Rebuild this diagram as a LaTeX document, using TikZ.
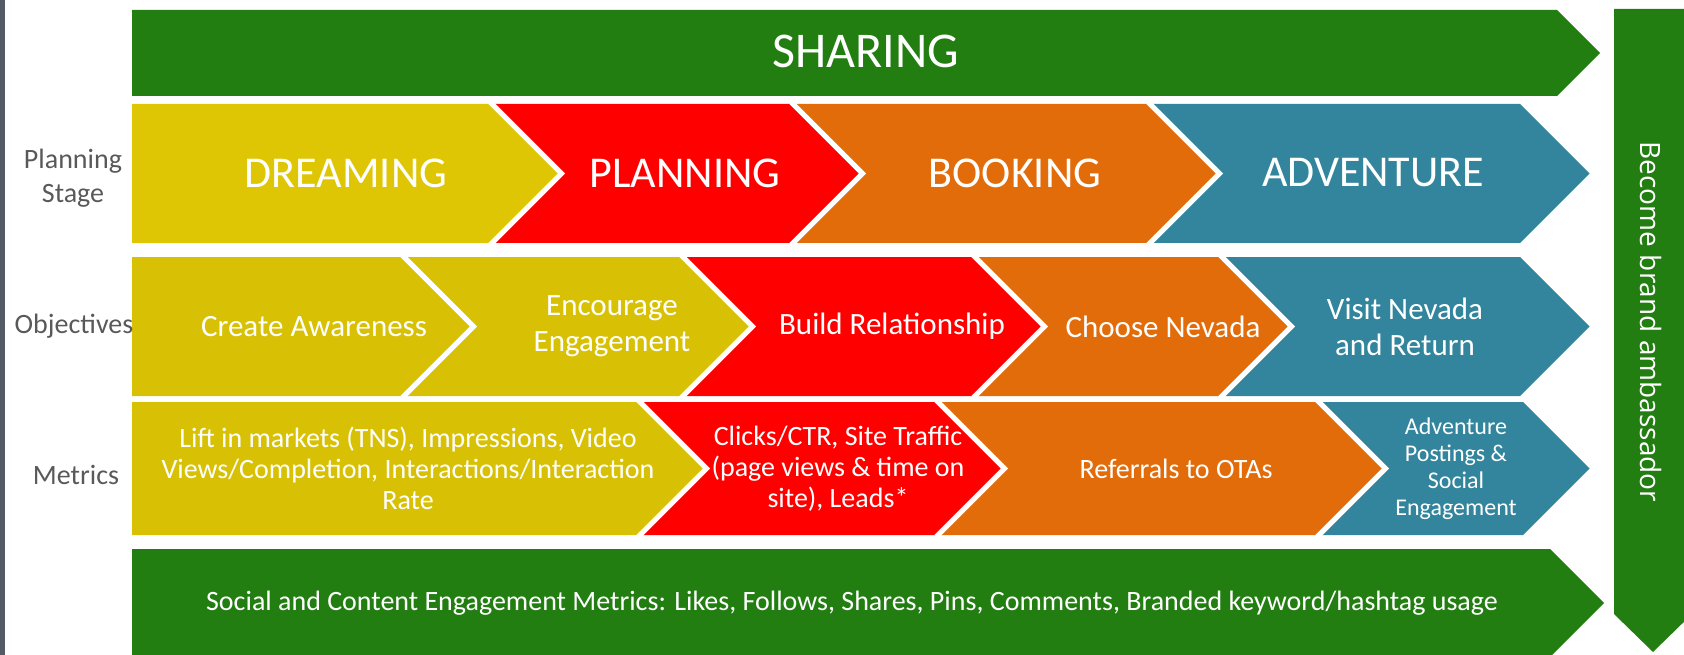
\documentclass[tikz,border=0pt]{standalone}
\usepackage{fontspec}
\setmainfont{Carlito}
\newfontfamily\sidefont{Open Sans}
\usetikzlibrary{positioning}
\definecolor{edgegray}{RGB}{84,91,101}
\definecolor{sharegreen}{RGB}{34,126,17}
\definecolor{dreamyellow}{RGB}{223,198,4}
\definecolor{goalyellow}{RGB}{216,193,4}
\definecolor{planred}{RGB}{255,0,0}
\definecolor{bookorange}{RGB}{227,108,10}
\definecolor{adventteal}{RGB}{50,133,156}
\definecolor{labelgray}{RGB}{89,89,89}
\tikzset{
  gap/.style={
    draw = white,
    line width = 5pt,
    line join = miter,
    line cap = rect
  },
  stage/.style={
    text = white,
    font = \fontsize{44}{52}\selectfont
  },
  goal/.style={
    text = white,
    align = center,
    font = \fontsize{31}{36}\selectfont
  },
  metric/.style={
    text = white,
    align = center,
    font = \fontsize{28}{31}\selectfont
  },
  rowlabel/.style={
    text = labelgray,
    align = center,
    font = \fontsize{28}{34}\selectfont
  },
}

\begin{document}
\begin{tikzpicture}[x=1pt,y=-1pt]
\useasboundingbox (0,0) rectangle (1684,655);
\clip (0,0) rectangle (1684,655);
\fill[edgegray] (0,0) rectangle (5,655);
% green bands, top and bottom
\fill[sharegreen] (132,10) -- (1557,10) -- (1600,53) -- (1557,96) -- (132,96) -- cycle;
\fill[sharegreen] (132,549) -- (1550,549) -- (1604,603) -- (1550,657) -- (132,657) -- cycle;
\fill[sharegreen] (1614,9) -- (1692,9) -- (1692,614) -- (1653,652) -- (1614,614) -- cycle;
% planning stage row
\foreach \l/\n/\r/\c in {132/0/492/dreamyellow, 492/69.5/793/planred,
    793/69.5/1150/bookorange, 1150/69.5/1520/adventteal}{
  \fill[\c] (\l,104) -- (\r,104) -- ++(69.5,69.5) -- (\r,243) -- (\l,243)
    -- ++(\n,-69.5) -- cycle;
}
\foreach \b in {492,793,1150}{
  \draw[gap] (\b,104) -- ++(69.5,69.5) -- (\b,243);
}
% objectives row
\foreach \l/\n/\r/\c in {132/0/404/goalyellow, 404/69.5/683/goalyellow,
    683/69.5/975/planred, 975/69.5/1222/bookorange, 1222/69.5/1520/adventteal}{
  \fill[\c] (\l,257) -- (\r,257) -- ++(69.5,69.5) -- (\r,396) -- (\l,396)
    -- ++(\n,-69.5) -- cycle;
}
\foreach \b in {404,683,975,1222}{
  \draw[gap] (\b,257) -- ++(69.5,69.5) -- (\b,396);
}
% metrics row
\foreach \l/\n/\r/\c in {132/0/640/goalyellow, 640/66.5/938/planred,
    938/66.5/1319/bookorange, 1319/66.5/1523/adventteal}{
  \fill[\c] (\l,402) -- (\r,402) -- ++(66.5,66.5) -- (\r,535) -- (\l,535)
    -- ++(\n,-66.5) -- cycle;
}
\foreach \b in {640,938,1319}{
  \draw[gap] (\b,402) -- ++(66.5,66.5) -- (\b,535);
}

\node[stage,font=\fontsize{50}{60}\selectfont] (sharing) at (866,51) {SHARING};
\node[stage] (dreaming) at (346,173) {DREAMING};
\node[stage] (planning) at (685,173) {PLANNING};
\node[stage] (booking) at (1015,173) {BOOKING};
\node[stage] (adventure) at (1373,173) {ADVENTURE};

\node[goal] (awareness) at (314,326.5) {Create Awareness};
\node[goal] (engage) at (612,326.5) {Encourage\\Engagement};
\node[goal] (relation) at (892,326.5) {Build Relationship};
\node[goal] (choose) at (1163,326.5) {Choose Nevada};
\node[goal] (visit) at (1405,326.5) {Visit Nevada\\and Return};

\node[metric] (lift) at (408,468.5)
  {Lift in markets (TNS), Impressions, Video\\Views/Completion, Interactions/Interaction\\Rate};
\node[metric] (clicks) at (838,468.5)
  {Clicks/CTR, Site Traffic\\(page views \& time on\\site), Leads*};
\node[metric] (referrals) at (1176,468.5) {Referrals to OTAs};
\node[metric,font=\fontsize{24}{27}\selectfont] (postings) at (1456,468.5)
  {Adventure\\Postings \&\\Social\\Engagement};
\node[metric] (social) at (852,603)
  {Social and Content Engagement Metrics: Likes, Follows, Shares, Pins, Comments, Branded keyword/hashtag usage};

\node[text=white,rotate=-90,font=\sidefont\fontsize{28}{34}\selectfont] (ambassador) at (1651,322)
  {Become brand ambassador};

\node[rowlabel] (lstage) at (73,178) {Planning\\Stage};
\node[rowlabel] (lobj) at (74,326) {Objectives};
\node[rowlabel] (lmetrics) at (76,475) {Metrics};
\end{tikzpicture}
\end{document}
